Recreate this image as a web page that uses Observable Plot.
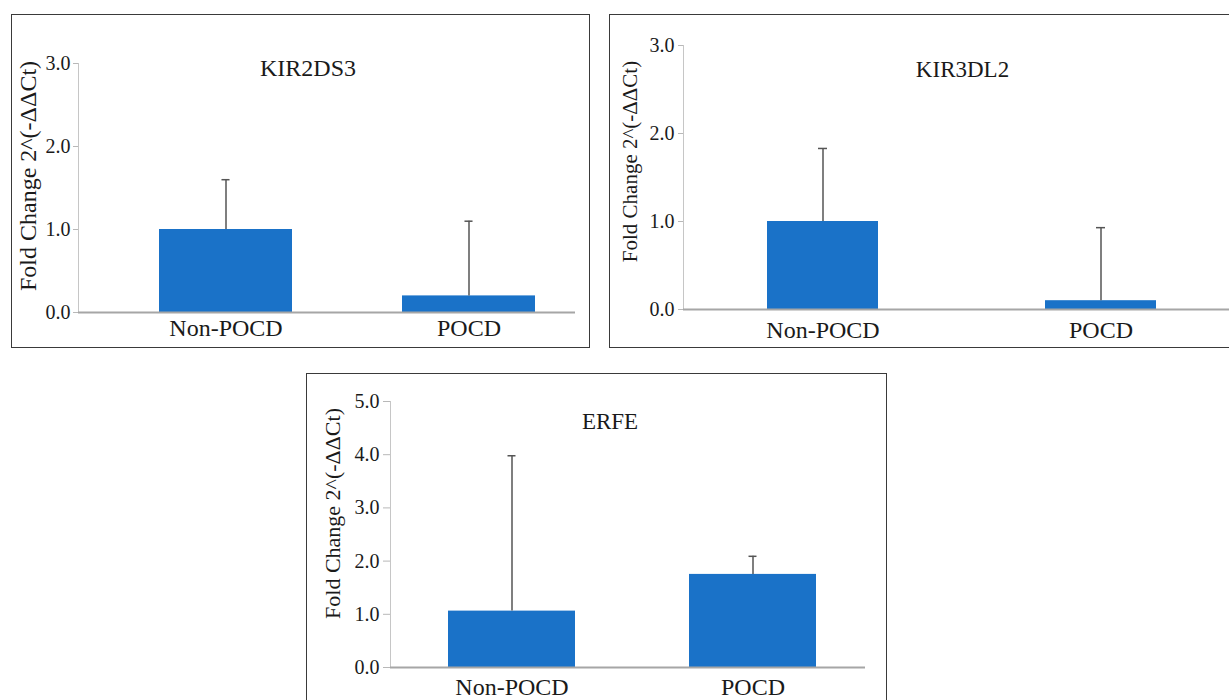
<!DOCTYPE html>
<html>
<head>
<meta charset="utf-8">
<script src="https://cdn.jsdelivr.net/npm/d3@7"></script>
<script src="https://cdn.jsdelivr.net/npm/@observablehq/plot@0.6"></script>
<style>
  html, body { margin: 0; padding: 0; background: #fff; }
  #root { position: relative; width: 1229px; height: 700px; overflow: hidden; font-family: "Liberation Serif", "DejaVu Serif", serif; }
  #root svg, #root svg text { font-family: "Liberation Serif", "DejaVu Serif", serif !important; }
  .box { position: absolute; box-sizing: border-box; border: 1.5px solid #3a3a3a; pointer-events: none; }
  .holder { position: absolute; }
  .holder svg { display: block; }
</style>
</head>
<body>
<div id="root"></div>
<script>
// ---- data ----
const groups = ["Non-POCD", "POCD"];
const kir2ds3Mean  = [1.0, 0.2];
const kir2ds3Upper = [1.6, 1.1];
const kir3dl2Mean  = [1.0, 0.1];
const kir3dl2Upper = [1.83, 0.93];
const erfeMean     = [1.06, 1.75];
const erfeUpper    = [3.98, 2.09];
const ticks0to3 = [0, 1, 2, 3];
const ticks0to5 = [0, 1, 2, 3, 4, 5];
const titles = ["KIR2DS3", "KIR3DL2", "ERFE"];
const yTitle = "Fold Change 2^(-ΔΔCt)";

// ---- layout / style ----
const barColor = "#1a72c8";
const errColor = "#555555";
const panels = [
  { title: titles[0], mean: kir2ds3Mean, upper: kir2ds3Upper, ticks: ticks0to3, yMax: 3,
    box: {left: 11, top: 14, width: 579, height: 334},
    m: {l: 67, r: 15, t: 49, b: 36},
    band: {pi: 0.451, po: 0.244, align: 0.672},
    tickFont: 20, xFont: 24, titleFont: 24, yFont: 24,
    titleDx: -19, titleDy: 5, yDx: -50, yDy: -12, xPad: 6, tickSize: 5, tickPad: 3 },
  { title: titles[1], mean: kir3dl2Mean, upper: kir3dl2Upper, ticks: ticks0to3, yMax: 3,
    box: {left: 609, top: 14, width: 640, height: 334},
    m: {l: 74, r: 20, t: 31, b: 39},
    band: {pi: 0.602, po: 0.28, align: 0.532},
    tickFont: 20, xFont: 24, titleFont: 23, yFont: 21,
    titleDx: 6, titleDy: 24, yDx: -53, yDy: -16, xPad: 11, tickSize: 5, tickPad: 4 },
  { title: titles[2], mean: erfeMean, upper: erfeUpper, ticks: ticks0to5, yMax: 5,
    box: {left: 306, top: 373, width: 581, height: 340},
    m: {l: 84, r: 22, t: 28, b: 46},
    band: {pi: 0.471, po: 0.217, align: 0.543},
    tickFont: 20, xFont: 24, titleFont: 23, yFont: 22,
    titleDx: -18, titleDy: 20, yDx: -58, yDy: -21, xPad: 10, tickSize: 7, tickPad: 4 }
];

const root = document.getElementById("root");

for (const p of panels) {
  const data = groups.map((g, i) => ({group: g, mean: p.mean[i], upper: p.upper[i]}));
  const frameW = p.box.width - p.m.l - p.m.r;
  const step = frameW / (groups.length - p.band.pi + 2 * p.band.po);
  const bw = step * (1 - p.band.pi);
  const capInset = Math.max(0, (bw - 9) / 2);

  const chart = Plot.plot({
    width: p.box.width,
    height: p.box.height,
    marginLeft: p.m.l, marginRight: p.m.r, marginTop: p.m.t, marginBottom: p.m.b,
    style: {fontSize: "20px", color: "#1a1a1a", background: "transparent", overflow: "visible"},
    x: {domain: groups, paddingInner: p.band.pi, paddingOuter: p.band.po, align: p.band.align, axis: null},
    y: {domain: [0, p.yMax], axis: null},
    marks: [
      Plot.frame({anchor: "left", stroke: "#c6c6c6", strokeWidth: 1}),
      Plot.axisY(p.ticks, {tickSize: p.tickSize, tickPadding: p.tickPad, tickFormat: d3.format(".1f"), fontSize: p.tickFont, stroke: "#b8b8b8", label: null}),
      Plot.barY(data, {x: "group", y: "mean", fill: barColor}),
      Plot.ruleX(data, {x: "group", y1: "mean", y2: "upper", stroke: errColor, strokeWidth: 1.5}),
      Plot.tickY(data, {x: "group", y: "upper", stroke: errColor, strokeWidth: 1.5, insetLeft: capInset, insetRight: capInset}),
      Plot.ruleY([0], {stroke: "#a6a6a6", strokeWidth: 2}),
      Plot.axisX({tickSize: 0, tickPadding: p.xPad, fontSize: p.xFont, label: null}),
      Plot.text([p.title], {frameAnchor: "top", dx: p.titleDx, dy: p.titleDy, fontSize: p.titleFont, textAnchor: "middle", lineAnchor: "middle", fill: "#1a1a1a"}),
      Plot.text([yTitle], {frameAnchor: "left", rotate: -90, dx: p.yDx, dy: p.yDy, fontSize: p.yFont, textAnchor: "middle", lineAnchor: "middle", fill: "#1a1a1a"})
    ]
  });

  const holder = document.createElement("div");
  holder.className = "holder";
  Object.assign(holder.style, {left: p.box.left + "px", top: p.box.top + "px", width: p.box.width + "px", height: p.box.height + "px"});
  holder.appendChild(chart);
  root.appendChild(holder);

  const box = document.createElement("div");
  box.className = "box";
  Object.assign(box.style, {left: p.box.left + "px", top: p.box.top + "px", width: p.box.width + "px", height: p.box.height + "px"});
  root.appendChild(box);
}
</script>
</body>
</html>
